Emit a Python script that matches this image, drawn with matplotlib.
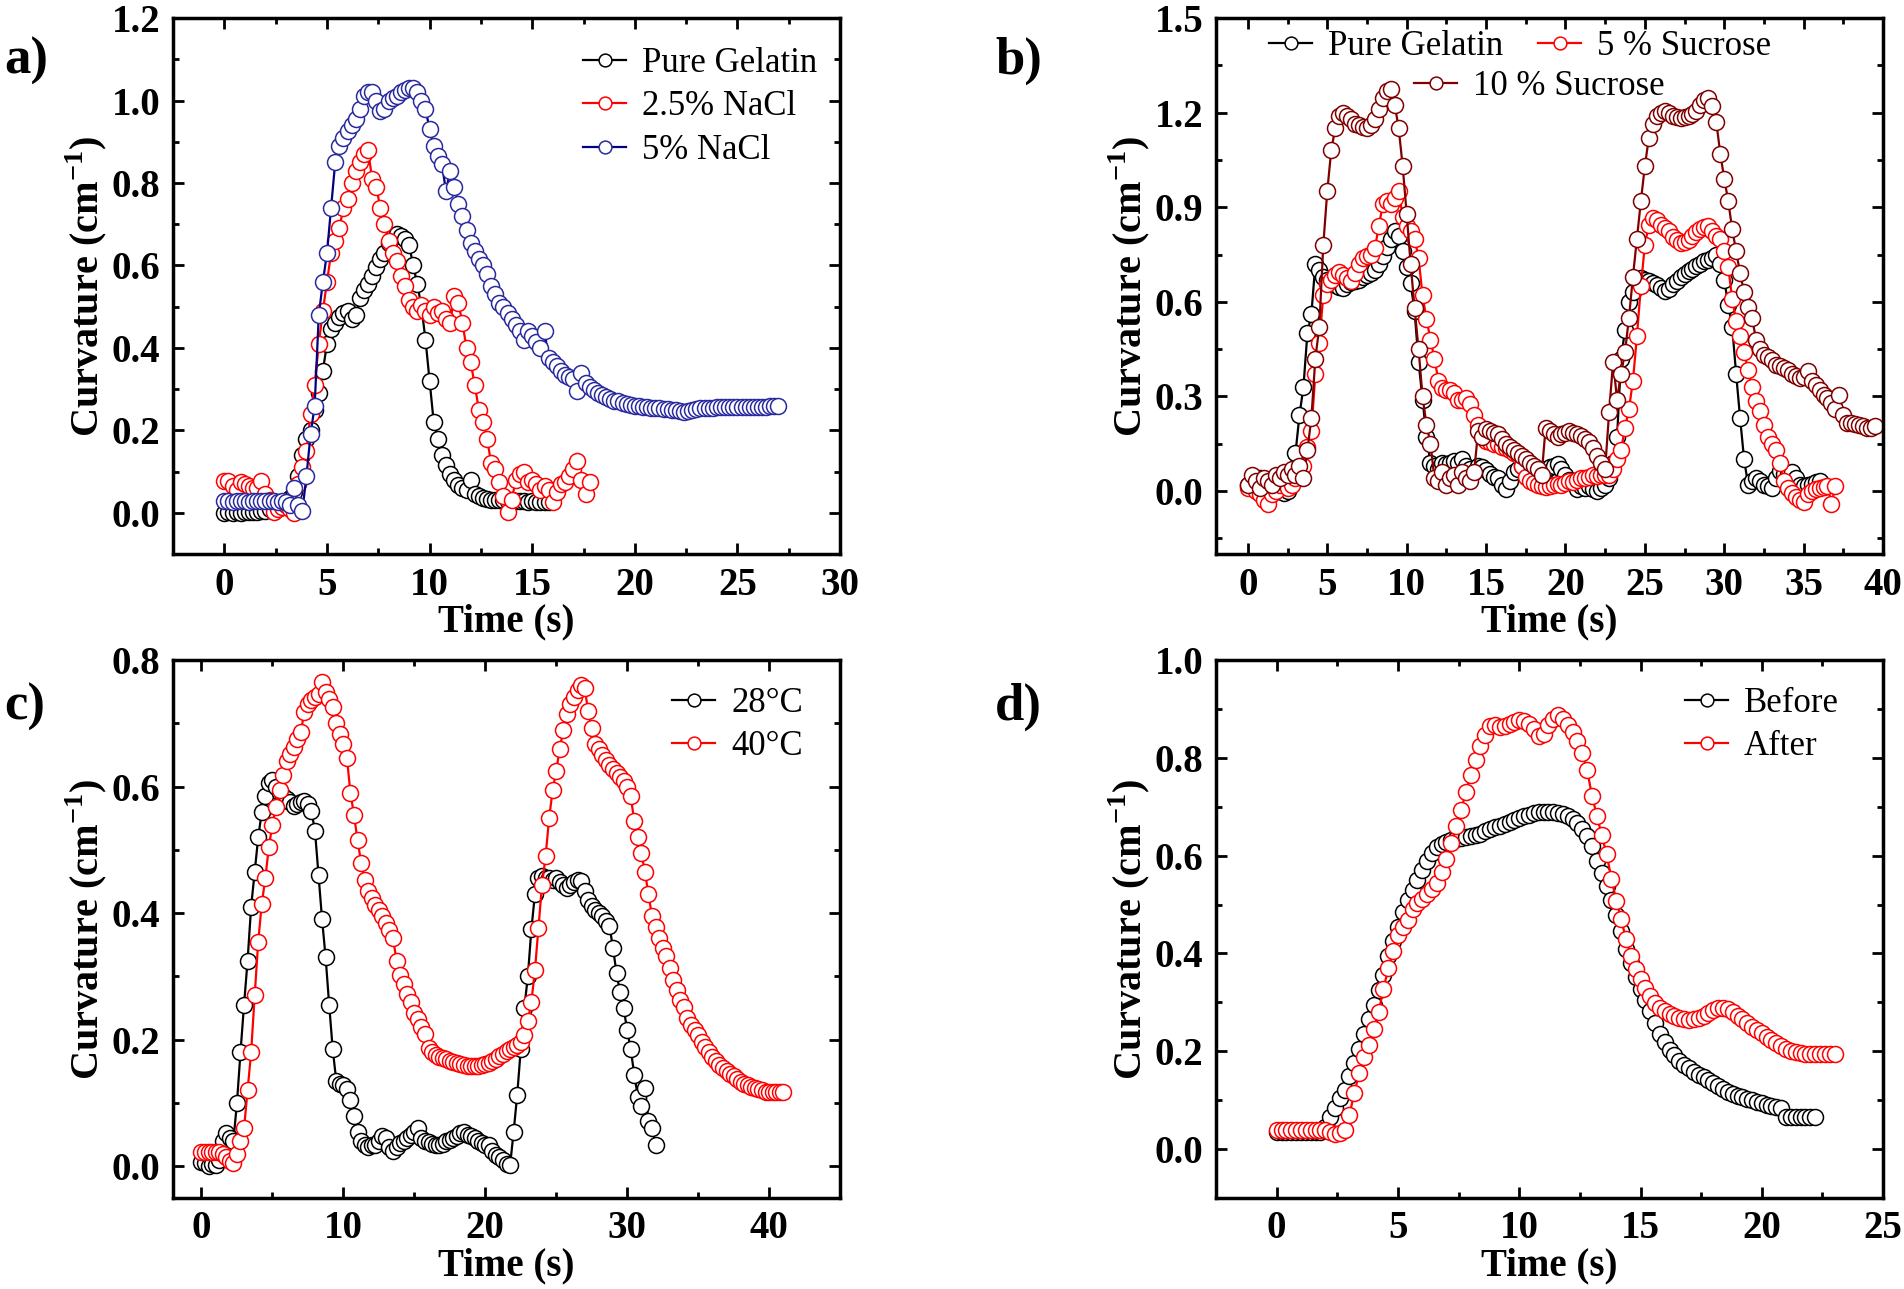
import numpy as np
import matplotlib.pyplot as plt
from matplotlib.ticker import MultipleLocator, FormatStrFormatter

plt.rcParams['font.family'] = ['Liberation Serif', 'DejaVu Serif']
plt.rcParams['font.weight'] = 'bold'
plt.rcParams['axes.labelweight'] = 'bold'
plt.rcParams['mathtext.fontset'] = 'custom'
plt.rcParams['mathtext.rm'] = 'Liberation Serif:bold'
plt.rcParams['mathtext.bf'] = 'Liberation Serif:bold'

# ---- a) NaCl, sampled every 0.2 s ----
DT_A = 0.2
gelatin_a = [0.000, 0.002, 0.000, 0.002, 0.000, 0.003, 0.001, 0.002, 0.003, 0.004,
             0.005, 0.010, 0.015, 0.020, 0.022, 0.025, 0.035, 0.050, 0.090, 0.140,
             0.180, 0.200, 0.250, 0.290, 0.345, 0.410, 0.445, 0.460, 0.475, 0.485,
             0.490, 0.470, 0.480, 0.520, 0.540, 0.555, 0.575, 0.595, 0.615, 0.630,
             0.655, 0.670, 0.675, 0.672, 0.665, 0.650, 0.600, 0.555, 0.500, 0.420,
             0.320, 0.220, 0.180, 0.140, 0.115, 0.095, 0.080, 0.068, 0.060, 0.055,
             0.080, 0.045, 0.040, 0.036, 0.034, 0.032, 0.031, 0.030, 0.030, 0.029,
             0.030, 0.029, 0.028, 0.028, 0.027, 0.028, 0.027, 0.026, 0.027, 0.026]
nacl25 = [0.078, 0.078, 0.065, 0.055, 0.075, 0.070, 0.065, 0.060, 0.060, 0.078,
          0.045, 0.030, 0.002, 0.010, 0.015, 0.020, 0.010, 0.000, 0.070, 0.110,
          0.150, 0.240, 0.310, 0.410, 0.490, 0.560, 0.630, 0.660, 0.690, 0.740,
          0.760, 0.800, 0.830, 0.850, 0.870, 0.880, 0.810, 0.790, 0.740, 0.700,
          0.660, 0.630, 0.610, 0.575, 0.550, 0.515, 0.500, 0.490, 0.505, 0.490,
          0.480, 0.500, 0.485, 0.490, 0.470, 0.460, 0.525, 0.510, 0.460, 0.400,
          0.365, 0.310, 0.250, 0.220, 0.180, 0.120, 0.105, 0.075, 0.040, 0.002,
          0.030, 0.080, 0.095, 0.100, 0.075, 0.080, 0.070, 0.055, 0.065, 0.055,
          0.025, 0.050, 0.070, 0.075, 0.090, 0.105, 0.125, 0.080, 0.045, 0.075]
nacl5 = [0.028, 0.028, 0.027, 0.028, 0.028, 0.028, 0.027, 0.028, 0.028, 0.028,
         0.029, 0.028, 0.028, 0.027, 0.028, 0.026, 0.020, 0.060, 0.020, 0.005,
         0.090, 0.190, 0.260, 0.480, 0.560, 0.630, 0.740, 0.850, 0.890, 0.910,
         0.925, 0.940, 0.955, 0.980, 1.010, 1.020, 1.020, 1.000, 0.975, 0.980,
         1.000, 1.005, 1.010, 1.020, 1.025, 1.030, 1.030, 1.020, 1.000, 0.980,
         0.930, 0.890, 0.865, 0.845, 0.780, 0.830, 0.790, 0.750, 0.720, 0.685,
         0.655, 0.635, 0.615, 0.600, 0.580, 0.550, 0.530, 0.510, 0.500, 0.485,
         0.470, 0.455, 0.440, 0.420, 0.440, 0.430, 0.415, 0.400, 0.440, 0.375,
         0.365, 0.355, 0.345, 0.335, 0.330, 0.325, 0.295, 0.340, 0.315, 0.305,
         0.298, 0.290, 0.285, 0.280, 0.276, 0.272, 0.270, 0.267, 0.265, 0.262,
         0.260, 0.259, 0.257, 0.256, 0.255, 0.254, 0.253, 0.252, 0.252, 0.250,
         0.249, 0.247, 0.245, 0.248, 0.250, 0.252, 0.253, 0.254, 0.255, 0.255,
         0.256, 0.256, 0.257, 0.256, 0.257, 0.257, 0.256, 0.257, 0.256, 0.256,
         0.257, 0.256, 0.257, 0.258, 0.258, 0.259]

# ---- b) sucrose, sampled every 0.25 s ----
DT_B = 0.25
gelatin_b = [0.02, 0.03, 0.01, 0.04, 0.02, 0.03, 0.02, 0.01,
             0.00, -0.005, 0.00, 0.03, 0.12, 0.24, 0.33, 0.50,
             0.56, 0.72, 0.70, 0.68, 0.67, 0.66, 0.654, 0.648,
             0.645, 0.655, 0.662, 0.665, 0.67, 0.678, 0.684, 0.69,
             0.70, 0.72, 0.745, 0.775, 0.80, 0.825, 0.81, 0.76,
             0.71, 0.66, 0.57, 0.41, 0.29, 0.17, 0.09, 0.08,
             0.07, 0.09, 0.085, 0.09, 0.095, 0.09, 0.10, 0.08,
             0.07, 0.06, 0.08, 0.075, 0.065, 0.055, 0.045, 0.04,
             0.02, 0.006, 0.03, 0.06, 0.07, 0.08, 0.075, 0.07,
             0.065, 0.06, 0.07, 0.065, 0.075, 0.08, 0.084, 0.07,
             0.05, 0.035, 0.03, 0.006, 0.015, 0.01, 0.015, 0.005,
             0.0, 0.01, 0.02, 0.04, 0.09, 0.17, 0.42, 0.51,
             0.60, 0.63, 0.67, 0.675, 0.67, 0.665, 0.66, 0.654,
             0.645, 0.635, 0.64, 0.655, 0.667, 0.678, 0.688, 0.697,
             0.705, 0.713, 0.72, 0.728, 0.733, 0.738, 0.748, 0.72,
             0.67, 0.59, 0.52, 0.37, 0.23, 0.10, 0.02, 0.03,
             0.04, 0.03, 0.02, 0.015, 0.01, 0.04, 0.063, 0.055,
             0.053, 0.06, 0.04, 0.02, 0.015, 0.02, 0.021, 0.028,
             0.031]
sucrose5 = [0.01, 0.02, 0.00, -0.01, -0.03, -0.04, -0.01, 0.00,
            0.02, 0.03, 0.01, 0.02, 0.04, 0.05, 0.08, 0.14,
            0.19, 0.37, 0.47, 0.62, 0.655, 0.67, 0.685, 0.695,
            0.685, 0.675, 0.665, 0.69, 0.72, 0.74, 0.745, 0.75,
            0.77, 0.84, 0.91, 0.92, 0.91, 0.93, 0.95, 0.87,
            0.84, 0.825, 0.80, 0.74, 0.62, 0.545, 0.48, 0.42,
            0.35, 0.325, 0.32, 0.32, 0.31, 0.29, 0.29, 0.295,
            0.275, 0.24, 0.21, 0.17, 0.16, 0.155, 0.15, 0.15,
            0.14, 0.135, 0.13, 0.12, 0.115, 0.08, 0.045, 0.03,
            0.025, 0.02, 0.015, 0.012, 0.015, 0.02, 0.022, 0.02,
            0.025, 0.03, 0.028, 0.035, 0.04, 0.042, 0.045, 0.05,
            0.048, 0.052, 0.05, 0.05, 0.07, 0.10, 0.13, 0.20,
            0.26, 0.35, 0.49, 0.65, 0.78, 0.845, 0.866, 0.86,
            0.845, 0.835, 0.825, 0.805, 0.795, 0.787, 0.79, 0.795,
            0.81, 0.82, 0.83, 0.838, 0.84, 0.826, 0.81, 0.798,
            0.76, 0.71, 0.61, 0.54, 0.49, 0.44, 0.385, 0.33,
            0.285, 0.255, 0.21, 0.17, 0.15, 0.13, 0.09, 0.03,
            0.01, -0.005, -0.02, -0.03, -0.035, -0.01, 0.00, 0.005,
            0.01, 0.012, 0.015, -0.04, 0.015]
sucrose10 = [0.02, 0.05, 0.03, 0.01, 0.04, 0.03, 0.02, 0.05,
             0.04, 0.06, 0.05, 0.07, 0.05, 0.08, 0.04, 0.13,
             0.23, 0.42, 0.52, 0.78, 0.95, 1.08, 1.15, 1.19,
             1.20, 1.19, 1.18, 1.165, 1.16, 1.155, 1.15, 1.16,
             1.18, 1.21, 1.245, 1.27, 1.275, 1.225, 1.15, 1.03,
             0.88, 0.72, 0.58, 0.45, 0.30, 0.21, 0.15, 0.04,
             0.03, 0.06, 0.02, 0.04, 0.05, 0.02, 0.06, 0.04,
             0.03, 0.06, 0.19, 0.17, 0.195, 0.19, 0.185, 0.18,
             0.165, 0.15, 0.14, 0.13, 0.12, 0.11, 0.10, 0.09,
             0.08, 0.07, 0.05, 0.20, 0.19, 0.18, 0.17, 0.18,
             0.185, 0.19, 0.185, 0.18, 0.175, 0.165, 0.155, 0.135,
             0.11, 0.09, 0.07, 0.25, 0.41, 0.29, 0.37, 0.44,
             0.55, 0.68, 0.80, 0.92, 1.03, 1.12, 1.165, 1.19,
             1.20, 1.205, 1.20, 1.19, 1.185, 1.183, 1.185, 1.19,
             1.195, 1.205, 1.225, 1.24, 1.245, 1.22, 1.17, 1.07,
             0.99, 0.92, 0.83, 0.76, 0.69, 0.63, 0.585, 0.55,
             0.48, 0.45, 0.43, 0.425, 0.415, 0.40, 0.395, 0.39,
             0.383, 0.372, 0.365, 0.358, 0.36, 0.38, 0.35, 0.335,
             0.32, 0.305, 0.295, 0.28, 0.26, 0.305, 0.24, 0.215,
             0.215, 0.213, 0.21, 0.205, 0.20, 0.20, 0.205]

# ---- c) temperature, sampled every 0.25 s ----
DT_C = 0.25
temp28 = [0.007, 0.005, 0.0, 0.003, 0.002, 0.01, 0.04, 0.053,
          0.045, 0.04, 0.10, 0.18, 0.255, 0.325, 0.41, 0.465,
          0.52, 0.56, 0.585, 0.605, 0.61, 0.60, 0.59, 0.585,
          0.58, 0.575, 0.57, 0.572, 0.576, 0.577, 0.572, 0.561,
          0.53, 0.46, 0.39, 0.33, 0.255, 0.185, 0.135, 0.13,
          0.128, 0.122, 0.105, 0.08, 0.055, 0.04, 0.034, 0.03,
          0.033, 0.034, 0.04, 0.048, 0.045, 0.03, 0.024, 0.03,
          0.037, 0.04, 0.045, 0.05, 0.055, 0.06, 0.045, 0.04,
          0.038, 0.036, 0.034, 0.034, 0.036, 0.04, 0.042, 0.045,
          0.048, 0.052, 0.055, 0.05, 0.048, 0.045, 0.04, 0.037,
          0.034, 0.033, 0.025, 0.018, 0.015, 0.01, 0.004, 0.002,
          0.055, 0.113, 0.185, 0.25, 0.30, 0.375, 0.43, 0.455,
          0.458, 0.456, 0.455, 0.453, 0.455, 0.45, 0.445, 0.44,
          0.445, 0.45, 0.452, 0.451, 0.435, 0.42, 0.412, 0.405,
          0.40, 0.395, 0.388, 0.38, 0.345, 0.305, 0.275, 0.25,
          0.215, 0.185, 0.145, 0.11, 0.095, 0.124, 0.072, 0.06,
          0.034]
temp40 = [0.023, 0.023, 0.022, 0.023, 0.022, 0.022, 0.02, 0.015,
          0.008, 0.006, 0.02, 0.04, 0.06, 0.12, 0.18, 0.27,
          0.355, 0.415, 0.455, 0.505, 0.54, 0.567, 0.595, 0.618,
          0.64, 0.652, 0.663, 0.675, 0.686, 0.718, 0.73, 0.737,
          0.742, 0.746, 0.765, 0.75, 0.738, 0.726, 0.70, 0.683,
          0.667, 0.645, 0.59, 0.555, 0.515, 0.48, 0.452, 0.435,
          0.424, 0.413, 0.405, 0.396, 0.385, 0.373, 0.36, 0.325,
          0.303, 0.288, 0.273, 0.259, 0.243, 0.232, 0.22, 0.209,
          0.187, 0.18, 0.176, 0.173, 0.171, 0.169, 0.167, 0.165,
          0.163, 0.161, 0.16, 0.159, 0.158, 0.158, 0.159, 0.16,
          0.161, 0.163, 0.166, 0.17, 0.174, 0.178, 0.182, 0.185,
          0.188, 0.191, 0.197, 0.208, 0.23, 0.26, 0.31, 0.377,
          0.445, 0.49, 0.55, 0.595, 0.625, 0.66, 0.69, 0.714,
          0.73, 0.742, 0.752, 0.76, 0.755, 0.72, 0.692, 0.668,
          0.659, 0.65, 0.642, 0.634, 0.628, 0.621, 0.615, 0.609,
          0.60, 0.585, 0.545, 0.52, 0.495, 0.465, 0.43, 0.395,
          0.378, 0.36, 0.345, 0.332, 0.313, 0.295, 0.278, 0.263,
          0.252, 0.235, 0.224, 0.215, 0.207, 0.197, 0.189, 0.181,
          0.173, 0.166, 0.16, 0.155, 0.15, 0.146, 0.142, 0.138,
          0.134, 0.13, 0.128, 0.126, 0.124, 0.122, 0.12, 0.118,
          0.118, 0.117, 0.117, 0.117, 0.117]

# ---- d) before / after, sampled every 0.2 s ----
DT_D = 0.2
before = [0.035, 0.035, 0.035, 0.035, 0.035, 0.035, 0.035, 0.035, 0.035, 0.035,
          0.045, 0.065, 0.085, 0.104, 0.12, 0.15, 0.175, 0.205, 0.235, 0.265,
          0.295, 0.325, 0.355, 0.395, 0.425, 0.455, 0.485, 0.51, 0.53, 0.55,
          0.57, 0.59, 0.605, 0.617, 0.624, 0.628, 0.631, 0.634, 0.636, 0.638,
          0.64, 0.643, 0.645, 0.65, 0.654, 0.658, 0.661, 0.664, 0.668, 0.672,
          0.676, 0.68, 0.684, 0.687, 0.689, 0.69, 0.69, 0.689, 0.688, 0.685,
          0.68, 0.674, 0.666, 0.655, 0.64, 0.62, 0.59, 0.565, 0.538, 0.51,
          0.478, 0.445, 0.41, 0.38, 0.352, 0.328, 0.305, 0.283, 0.258, 0.236,
          0.218, 0.203, 0.192, 0.181, 0.172, 0.165, 0.158, 0.152, 0.147, 0.141,
          0.135, 0.128, 0.122, 0.117, 0.113, 0.109, 0.106, 0.103, 0.1, 0.097,
          0.094, 0.091, 0.088, 0.086, 0.083, 0.066, 0.065, 0.065, 0.065, 0.065,
          0.065, 0.065]
after = [0.039, 0.039, 0.039, 0.039, 0.039, 0.039, 0.039, 0.039, 0.039, 0.039,
         0.039, 0.034, 0.031, 0.033, 0.04, 0.07, 0.115, 0.155, 0.188, 0.212,
         0.245, 0.28, 0.327, 0.37, 0.405, 0.437, 0.455, 0.468, 0.49, 0.503,
         0.512, 0.522, 0.532, 0.545, 0.567, 0.593, 0.625, 0.66, 0.693, 0.73,
         0.765, 0.795, 0.825, 0.847, 0.865, 0.868, 0.863, 0.866, 0.87, 0.873,
         0.877, 0.876, 0.87, 0.858, 0.845, 0.848, 0.868, 0.88, 0.888, 0.88,
         0.868, 0.852, 0.835, 0.81, 0.775, 0.722, 0.682, 0.642, 0.603, 0.553,
         0.508, 0.47, 0.43, 0.395, 0.368, 0.347, 0.33, 0.313, 0.298, 0.288,
         0.282, 0.277, 0.272, 0.268, 0.265, 0.264, 0.265, 0.268, 0.272, 0.279,
         0.285, 0.288, 0.289, 0.287, 0.28, 0.272, 0.265, 0.257, 0.25, 0.244,
         0.238, 0.23, 0.223, 0.216, 0.21, 0.205, 0.201, 0.198, 0.196, 0.195,
         0.195, 0.195, 0.194, 0.194, 0.194, 0.194]

LEG_FONT = {'size': 25, 'weight': 'normal'}
LEG_KW = dict(loc='upper left', frameon=False, prop=LEG_FONT, handlelength=1.25,
              handletextpad=0.45, labelspacing=0.3, borderpad=0,
              borderaxespad=0, numpoints=1, markerscale=0.8)


def curve(ax, dt, vals, color, label, line=None):
    t = np.arange(len(vals)) * dt
    ax.plot(t, vals, '-o', color=line or color, mec=color, mfc='white',
            ms=11.5, mew=1.1, lw=1.6, label=label)


def style(ax, xlim, ylim, xstep, ystep):
    ax.set_xlim(*xlim)
    ax.set_ylim(*ylim)
    ax.xaxis.set_major_locator(MultipleLocator(xstep))
    ax.xaxis.set_minor_locator(MultipleLocator(xstep / 2))
    ax.yaxis.set_major_locator(MultipleLocator(ystep))
    ax.yaxis.set_minor_locator(MultipleLocator(ystep / 2))
    ax.yaxis.set_major_formatter(FormatStrFormatter('%.1f'))
    ax.tick_params(which='both', direction='in', top=True, right=True, width=2)
    ax.tick_params(which='major', length=8, labelsize=28, pad=9)
    ax.tick_params(which='minor', length=4)
    for s in ax.spines.values():
        s.set_linewidth(2.5)
    ax.set_xlabel('Time (s)', fontsize=28, fontweight='bold', labelpad=0)
    ax.set_ylabel(r'Curvature (cm$^{\mathbf{-1}}$)', fontsize=29,
                  fontweight='bold', labelpad=2)


def place(ax, x, y, handles=None, labels=None, **kw):
    if handles is None:
        handles, labels = ax.get_legend_handles_labels()
    return ax.legend(handles, labels, bbox_to_anchor=(x / 1904, 1 - y / 1289),
                     bbox_transform=ax.figure.transFigure, **LEG_KW, **kw)


fig = plt.figure(figsize=(19.04, 12.89), dpi=100)
ax_a = fig.add_axes([0.0909, 0.5702, 0.3503, 0.4158])
ax_b = fig.add_axes([0.6387, 0.5702, 0.3503, 0.4158])
ax_c = fig.add_axes([0.0909, 0.0706, 0.3503, 0.4174])
ax_d = fig.add_axes([0.6387, 0.0706, 0.3503, 0.4174])

# a)
curve(ax_a, DT_A, gelatin_a, 'black', 'Pure Gelatin')
curve(ax_a, DT_A, nacl25, 'red', '2.5% NaCl')
curve(ax_a, DT_A, nacl5, '#2a2aa0', '5% NaCl', line='#000080')
style(ax_a, (-2.5, 30), (-0.1, 1.2), 5, 0.2)
place(ax_a, 583, 47)

# b)
curve(ax_b, DT_B, gelatin_b, 'black', 'Pure Gelatin')
curve(ax_b, DT_B, sucrose5, 'red', '5 % Sucrose')
curve(ax_b, DT_B, sucrose10, '#800000', '10 % Sucrose')
style(ax_b, (-2, 40), (-0.2, 1.5), 5, 0.3)
h, l = ax_b.get_legend_handles_labels()
leg1 = place(ax_b, 1269, 30, h[:2], l[:2], ncol=2, columnspacing=1.0)
ax_b.add_artist(leg1)
place(ax_b, 1414, 70, h[2:], l[2:])

# c)
curve(ax_c, DT_C, temp28, 'black', '28°C')
curve(ax_c, DT_C, temp40, 'red', '40°C')
style(ax_c, (-2, 45), (-0.05, 0.8), 10, 0.2)
place(ax_c, 672, 687)

# d)
curve(ax_d, DT_D, before, 'black', 'Before')
curve(ax_d, DT_D, after, 'red', 'After')
style(ax_d, (-2.5, 25), (-0.1, 1.0), 5, 0.2)
place(ax_d, 1685, 687)

for lab, x, y in [('a)', 4, 61), ('b)', 995, 61), ('c)', 4, 707), ('d)', 995, 707)]:
    fig.text(x / 1904, 1 - y / 1289, lab, fontsize=38, va='center', ha='left')

fig.savefig('out.png', dpi=100)
